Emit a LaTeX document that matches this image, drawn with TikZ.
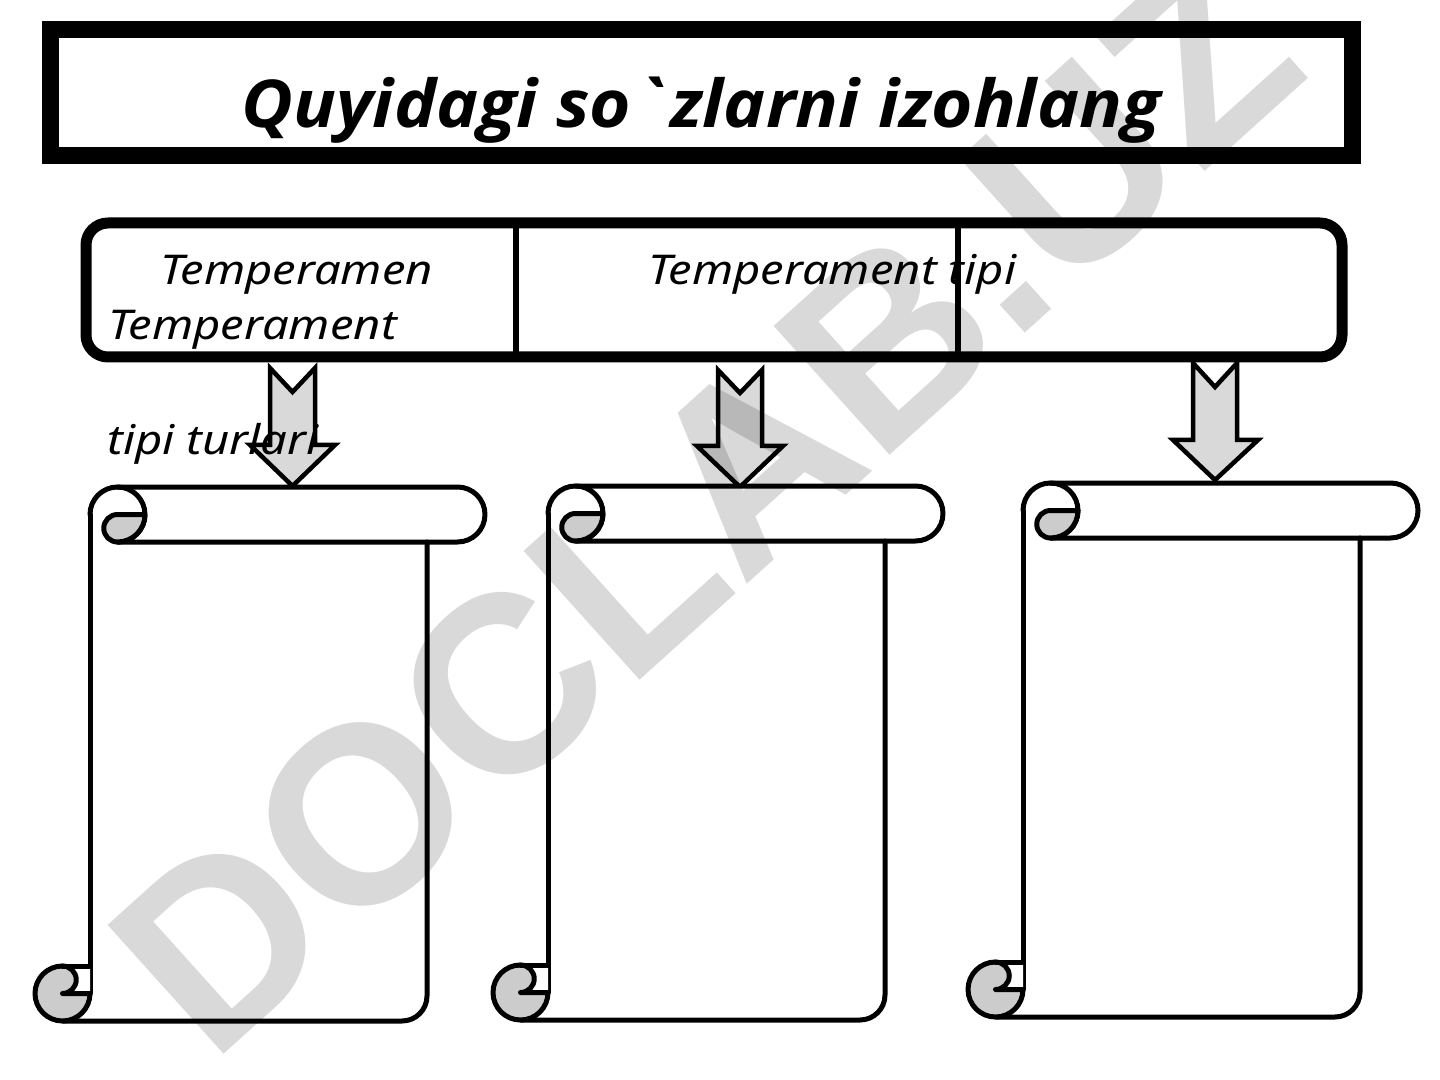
\documentclass[tikz,border=0pt]{standalone}
\usepackage{fontspec}
\newfontfamily\lblfont{Noto Sans}[FakeStretch=1.15]
\newfontfamily\titlefont{Open Sans}[FakeStretch=1.075]
\newfontfamily\wmfont{Liberation Sans}
\definecolor{arrowgray}{HTML}{D9D9D9}
\definecolor{lensgray}{HTML}{CCCCCC}
\definecolor{wmgray}{HTML}{D9D9D9}
\newcommand\myscroll[1]{%
\begin{scope}[shift={#1}]
  % white body
  \fill[white] (0,27.5) -- (0,534) -- (312,534) -- (337,509) -- (337,27.5) -- cycle;
  \fill[white] (27.5,27.5) circle[radius=27.5];
  % roll
  \filldraw[fill=white, sline] (27.5,0) -- (367.5,0) arc[start angle=-90,end angle=90,radius=27.5] -- (27.5,55);
  \draw[sline] (0,27.5) arc[start angle=180,end angle=450,radius=27.5];
  \filldraw[fill=lensgray, sline] (27.5,27.5) -- (55,27.5) arc[start angle=0,end angle=90,radius=27.5] arc[start angle=90,end angle=270,radius=13.75] -- cycle;
  % body edges
  \draw[sline] (0,27.5) -- (0,506.5);
  \draw[sline] (337,55) -- (337,509) arc[start angle=0,end angle=90,radius=25] -- (-27.5,534);
  % bottom curl
  \fill[lensgray] (-27.5,506.5) circle[radius=27.5];
  \fill[white] (-27.5,479) -- (0,479) -- (0,506.5) -- (-27.5,506.5) arc[start angle=90,end angle=-90,radius=13.75] -- cycle;
  \draw[sline] (-27.5,479) arc[start angle=270,end angle=0,radius=27.5];
  \draw[sline] (-27.5,479) -- (0,479);
  \draw[sline] (0,506.5) -- (-27.5,506.5) arc[start angle=90,end angle=-90,radius=13.75];
\end{scope}}
\begin{document}
\begin{tikzpicture}[x=0.5pt,y=-0.5pt, line join=round,
  sline/.style={line width=2.5pt, draw=black, line cap=round},
  blockarrow/.style={fill=arrowgray, draw=black, line width=2.25pt, line join=miter},
  lbl/.style={font=\lblfont\itshape\fontsize{20.5}{24}\selectfont, anchor=base west, inner sep=0pt}]
\useasboundingbox (0,0) rectangle (1440,1080);
\fill[white] (0,0) rectangle (1440,1080);

% title frame
\draw[line width=8.5pt, line join=miter] (50,30) rectangle (1352,156);
\node[font=\titlefont\bfseries\itshape\fontsize{33}{40}\selectfont, anchor=base, inner sep=0pt] (title) at (701,128) {Quyidagi so`zlarni izohlang};

% header box
\draw[line width=5.5pt, rounded corners=11pt] (86,223) rectangle (1342,357);
\node[lbl] (t1) at (160,285) {Temperamen};
\node[lbl] (t2) at (108,340) {Temperament};
\node[lbl] (t4) at (648,285) {Temperament tipi};
\coordinate (d1t) at (516,223); \coordinate (d1b) at (516,357);
\coordinate (d2t) at (958,223); \coordinate (d2b) at (958,357);
\draw[line width=3pt] (d1t) -- (d1b);
\draw[line width=3pt] (d2t) -- (d2b);

% block arrows
\draw[blockarrow] (270,368) -- (292.5,392) -- (315,368) -- (315,445) -- (335,445) -- (292.5,486) -- (250,445) -- (270,445) -- cycle;
\draw[blockarrow] (718,370) -- (740,393) -- (762,370) -- (762,446) -- (783,446) -- (740,487) -- (697,446) -- (718,446) -- cycle;
\draw[blockarrow] (1193,363) -- (1215,387) -- (1237,363) -- (1237,440) -- (1258,440) -- (1215,480) -- (1173,440) -- (1193,440) -- cycle;

\node[lbl] (t3) at (107,455) {tipi turlari};

% scrolls
\myscroll{(90,487)}
\myscroll{(548,486)}
\myscroll{(1023,483)}

% watermark
\begin{scope}[blend mode=multiply]
\node[rotate=42, text=wmgray, font=\wmfont\bfseries\fontsize{126}{126}\selectfont, inner sep=0pt] (wm) at (705,505) {DOCLAB.UZ};
\end{scope}
\end{tikzpicture}
\end{document}
